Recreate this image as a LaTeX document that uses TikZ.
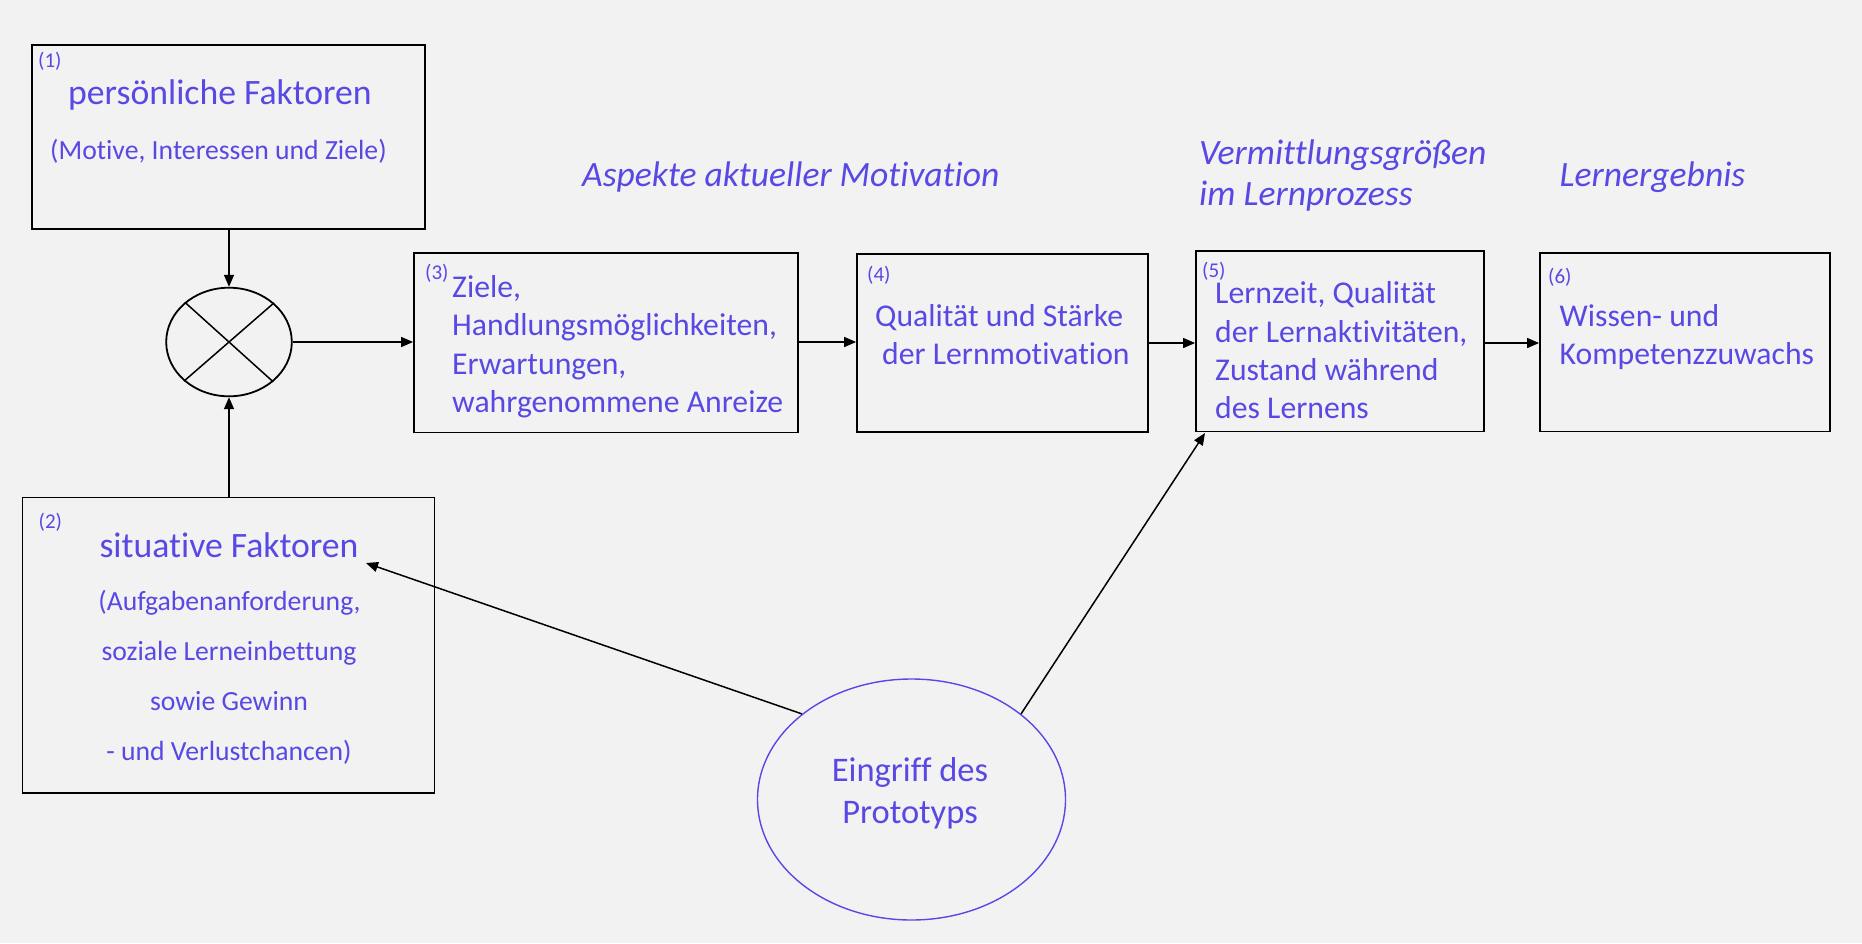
\documentclass[tikz,border=0pt]{standalone}
\usepackage{fontspec}
\setmainfont{Carlito}[Ligatures=NoCommon]
\usetikzlibrary{arrows.meta,shapes.geometric}
\definecolor{bg}{HTML}{F2F2F2}
\definecolor{txt}{RGB}{88,72,228}
\begin{document}
\begin{tikzpicture}[x=1pt,y=-1pt,
  box/.style={draw=black, line width=1.8pt, rectangle, inner sep=0pt},
  lbl/.style={text=txt, inner sep=0pt, anchor=base west},
  lblc/.style={text=txt, inner sep=0pt, anchor=base},
  numf/.style={font=\fontsize{21}{25}\selectfont},
  bigf/.style={font=\fontsize{35.7}{43}\selectfont},
  subf/.style={font=\fontsize{27.7}{33}\selectfont},
  bodyf/.style={font=\fontsize{31.7}{38}\selectfont},
  hdrf/.style={font=\fontsize{35.6}{43}\selectfont\itshape},
  arr/.style={draw=black, line width=1.5pt, -{Triangle[length=12pt,width=10pt]}},
  ln/.style={draw=black, line width=1.5pt}
]
\fill[bg] (0,0) rectangle (1862,943);
\useasboundingbox (0,0) rectangle (1862,943);

% boxes
\node[box, minimum width=393pt, minimum height=184pt] (b1) at (228.5,137) {};
\node[box, minimum width=412pt, minimum height=295.5pt] (b2) at (228.5,645.3) {};
\node[box, minimum width=384pt, minimum height=179.5pt] (b3) at (606,342.7) {};
\node[box, minimum width=291pt, minimum height=178pt] (b4) at (1002.5,343) {};
\node[box, minimum width=288pt, minimum height=180.5pt] (b5) at (1340,341.2) {};
\node[box, minimum width=290pt, minimum height=178.5pt] (b6) at (1685,342.2) {};

% junction
\node[draw=black, line width=1.8pt, ellipse, inner sep=0pt, minimum width=125.6pt, minimum height=108.6pt] (j) at (229,342) {};
\draw[ln] (j.41.2) -- (j.221.2);
\draw[ln] (j.138.8) -- (j.318.8);

% intervention ellipse
\node[draw=txt, line width=1.4pt, ellipse, inner sep=0pt, minimum width=308pt, minimum height=241pt] (e) at (911.5,799.5) {};

% texts box 1
\node[lbl, numf] (n1) at (38,67) {(1)};
\node[lbl, bigf] (t1a) at (68,104) {persönliche Faktoren};
\node[lbl, subf] (t1b) at (50,159) {(Motive, Interessen und Ziele)};

% headers
\node[lbl, hdrf] (h1) at (582,186.5) {Aspekte aktueller Motivation};
\node[lbl, hdrf] (h2a) at (1199,164) {Vermittlungsgrößen};
\node[lbl, hdrf] (h2b) at (1199,205.5) {im Lernprozess};
\node[lbl, hdrf] (h3) at (1559.5,186.5) {Lernergebnis};

% box 3
\node[lbl, numf] (n3) at (425,279) {(3)};
\node[lbl, bodyf] (t3a) at (452,297) {Ziele,};
\node[lbl, bodyf] (t3b) at (452,335.5) {Handlungsmöglichkeiten,};
\node[lbl, bodyf] (t3c) at (452,374) {Erwartungen,};
\node[lbl, bodyf] (t3d) at (452,412) {wahrgenommene Anreize};

% box 4
\node[lbl, numf] (n4) at (867,281) {(4)};
\node[lbl, bodyf] (t4a) at (875,326.5) {Qualität und Stärke};
\node[lbl, bodyf] (t4b) at (882,364.5) {der Lernmotivation};

% box 5
\node[lbl, numf] (n5) at (1202,277.5) {(5)};
\node[lbl, bodyf] (t5a) at (1215,303) {Lernzeit, Qualität};
\node[lbl, bodyf] (t5b) at (1215,342) {der Lernaktivitäten,};
\node[lbl, bodyf] (t5c) at (1215,380) {Zustand während};
\node[lbl, bodyf] (t5d) at (1215,418) {des Lernens};

% box 6
\node[lbl, numf] (n6) at (1548,283) {(6)};
\node[lbl, bodyf] (t6a) at (1559.5,326.5) {Wissen- und};
\node[lbl, bodyf] (t6b) at (1559.5,364.5) {Kompetenzzuwachs};

% box 2
\node[lbl, numf] (n2) at (38.5,528) {(2)};
\node[lblc, bigf] (t2a) at (229,557) {situative Faktoren};
\node[lblc, subf] (t2b) at (229.5,610.5) {(Aufgabenanforderung,};
\node[lblc, subf] (t2c) at (229,660.5) {soziale Lerneinbettung};
\node[lblc, subf] (t2d) at (229,710.5) {sowie Gewinn};
\node[lblc, subf] (t2e) at (229,760) {- und Verlustchancen)};

% ellipse text
\node[lblc, font=\fontsize{34.5}{41}\selectfont] (ea) at (910,781) {Eingriff des};
\node[lblc, font=\fontsize{34.5}{41}\selectfont] (eb) at (910,823) {Prototyps};

% connectors
\coordinate (tgt2) at (366,563);
\coordinate (tgt5) at (1205,433);
\draw[arr] (b1.south -| j.north) -- (j.north);
\draw[arr] (b2.north -| j.south) -- (j.south);
\draw[arr] (j.east) -- (j.east -| b3.west);
\draw[arr] (b3.east |- j.east) -- (j.east -| b4.west);
\draw[arr] (b4.east) -- (b4.east -| b5.west);
\draw[arr] (b5.east |- b4.east) -- (b4.east -| b6.west);
\draw[arr] (e.142.3) -- (tgt2);
\draw[arr] (e.38.5) -- (tgt5);
\end{tikzpicture}
\end{document}
